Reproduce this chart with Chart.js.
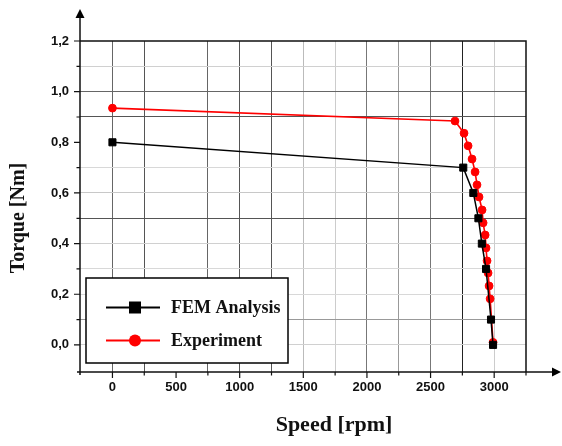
<!DOCTYPE html>
<html>
<head>
<meta charset="utf-8">
<script src="https://cdn.jsdelivr.net/npm/chart.js@4.4.0/dist/chart.umd.min.js"></script>
<style>
html,body{margin:0;padding:0;background:#fff;}
#wrap{width:562px;height:446px;position:relative;}
</style>
</head>
<body>
<div id="wrap"><canvas id="c" width="562" height="446"></canvas></div>
<script>
// ---- data ----
const femSpeed  = [0, 2757, 2836, 2876, 2903, 2936, 2975, 2991];
const femTorque = [0.80, 0.70, 0.60, 0.50, 0.40, 0.30, 0.10, 0.00];
const expSpeed  = [0, 2692, 2763, 2795, 2826, 2850, 2865, 2881, 2905, 2913, 2929, 2936, 2944, 2952, 2960, 2968, 2991];
const expTorque = [0.935, 0.884, 0.836, 0.786, 0.734, 0.683, 0.632, 0.584, 0.533, 0.482, 0.434, 0.383, 0.332, 0.284, 0.233, 0.182, 0.01];
const seriesNames = ['FEM Analysis', 'Experiment'];
const xTicks = [0,250,500,750,1000,1250,1500,1750,2000,2250,2500,2750,3000,3250];
const xTickLabels = ['0','','500','','1000','','1500','','2000','','2500','','3000',''];
const yTicks = [0.0,0.1,0.2,0.3,0.4,0.5,0.6,0.7,0.8,0.9,1.0,1.1,1.2];
const yTickLabels = ['0,0','','0,2','','0,4','','0,6','','0,8','','1,0','','1,2'];
const xTitle = 'Speed [rpm]';
const yTitle = 'Torque [Nm]';

// ---- styles ----
const xGridColors = {0:'#666',250:'#555',500:'rgba(0,0,0,0)',750:'#666',1000:'#555',1250:'#555',1500:'#bbb',1750:'#ccc',2000:'#777',2250:'#999',2500:'#777',2750:'#222',3000:'#ccc',3250:'rgba(0,0,0,0)'};
const yGridColors = {0:'#d0d0d0',1:'#999',2:'#d8d8d8',3:'#d8d8d8',4:'#d0d0d0',5:'#555',6:'#c8c8c8',7:'#d8d8d8',8:'rgba(0,0,0,0)',9:'#555',10:'#666',11:'#d0d0d0',12:'rgba(0,0,0,0)'};

const decor = {
  id: 'decor',
  afterDraw(chart) {
    const {ctx, chartArea: a, scales: {x, y}} = chart;
    ctx.save();
    // frame top & right
    ctx.strokeStyle = '#111';
    ctx.lineWidth = 1.5;
    ctx.beginPath();
    ctx.moveTo(a.left, a.top); ctx.lineTo(a.right, a.top); ctx.lineTo(a.right, a.bottom);
    ctx.stroke();
    // axes
    ctx.lineWidth = 1.5;
    ctx.beginPath();
    ctx.moveTo(a.left, a.bottom + 3); ctx.lineTo(a.left, 17);
    ctx.moveTo(a.left - 3, a.bottom); ctx.lineTo(553, a.bottom);
    ctx.stroke();
    ctx.fillStyle = '#000';
    ctx.beginPath();
    ctx.moveTo(a.left, 9); ctx.lineTo(a.left - 4.5, 18); ctx.lineTo(a.left + 4.5, 18); ctx.closePath();
    ctx.fill();
    ctx.beginPath();
    ctx.moveTo(561, a.bottom); ctx.lineTo(552, a.bottom - 4.5); ctx.lineTo(552, a.bottom + 4.5); ctx.closePath();
    ctx.fill();
    // tick marks
    ctx.lineWidth = 1.2;
    ctx.beginPath();
    xTicks.forEach((v, i) => {
      const px = x.getPixelForValue(v);
      const len = xTickLabels[i] ? 6 : 3.5;
      ctx.moveTo(px, a.bottom); ctx.lineTo(px, a.bottom + len);
    });
    yTicks.forEach((v, i) => {
      const py = y.getPixelForValue(v);
      const len = yTickLabels[i] ? 6 : 3.5;
      ctx.moveTo(a.left, py); ctx.lineTo(a.left - len, py);
    });
    ctx.stroke();
    // titles
    ctx.fillStyle = '#111';
    ctx.font = 'bold 22px "Liberation Serif"';
    ctx.textAlign = 'center';
    ctx.textBaseline = 'alphabetic';
    ctx.fillText(xTitle, 334, 431);
    ctx.save();
    ctx.translate(24, 218);
    ctx.rotate(-Math.PI / 2);
    ctx.font = 'bold 20px "Liberation Serif"';
    ctx.fillText(yTitle, 0, 0);
    ctx.restore();
    // legend
    ctx.fillStyle = '#fff';
    ctx.fillRect(86, 278, 202, 85);
    ctx.strokeStyle = '#000';
    ctx.lineWidth = 1.5;
    ctx.strokeRect(86, 278, 202, 85);
    const ds = chart.data.datasets;
    const rows = [307.5, 340.5];
    ds.forEach((d, i) => {
      const ly = rows[i];
      ctx.strokeStyle = d.borderColor;
      ctx.lineWidth = 2;
      ctx.beginPath(); ctx.moveTo(106, ly); ctx.lineTo(160, ly); ctx.stroke();
      ctx.fillStyle = d.pointBackgroundColor;
      if (d.pointStyle === 'rect') {
        ctx.fillRect(129, ly - 6, 12, 12);
      } else {
        ctx.beginPath(); ctx.arc(135, ly, 6, 0, Math.PI * 2); ctx.fill();
      }
      ctx.fillStyle = '#111';
      ctx.font = 'bold 18px "Liberation Serif"';
      ctx.textAlign = 'left';
      ctx.textBaseline = 'alphabetic';
      ctx.fillText(d.label, 171, ly + 5);
    });
    ctx.restore();
  }
};

new Chart(document.getElementById('c'), {
  type: 'scatter',
  data: {
    datasets: [
      {
        label: seriesNames[0],
        data: femSpeed.map((s, i) => ({x: s, y: femTorque[i]})),
        showLine: true,
        borderColor: '#000',
        backgroundColor: '#000',
        pointBackgroundColor: '#000',
        pointBorderColor: '#000',
        borderWidth: 1.5,
        pointBorderWidth: 1,
        pointStyle: 'rect',
        pointRadius: 5,
        pointHoverRadius: 5
      },
      {
        label: seriesNames[1],
        data: expSpeed.map((s, i) => ({x: s, y: expTorque[i]})),
        showLine: true,
        borderColor: '#ff0000',
        backgroundColor: '#ff0000',
        pointBackgroundColor: '#ff0000',
        pointBorderColor: '#ff0000',
        borderWidth: 1.6,
        pointBorderWidth: 1,
        pointStyle: 'circle',
        pointRadius: 3.9,
        pointHoverRadius: 3.9
      }
    ]
  },
  options: {
    responsive: false,
    animation: false,
    devicePixelRatio: 1,
    layout: {padding: {left: 0, right: 36, top: 41, bottom: 0}},
    plugins: {legend: {display: false}, tooltip: {enabled: false}},
    scales: {
      x: {
        type: 'linear',
        min: -255, max: 3250,
        afterFit(s) { s.height = 74; },
        afterBuildTicks(s) { s.ticks = xTicks.map(v => ({value: v})); },
        border: {display: false},
        grid: {
          drawTicks: false,
          lineWidth: 1,
          color: c => (c.tick && xGridColors[c.tick.value] !== undefined) ? xGridColors[c.tick.value] : 'rgba(0,0,0,0)'
        },
        ticks: {
          autoSkip: false, maxRotation: 0, padding: 8,
          color: '#111',
          font: {family: '"Liberation Sans", Arial, sans-serif', weight: 'bold', size: 13},
          callback: (v, i) => xTickLabels[i]
        }
      },
      y: {
        type: 'linear',
        min: -0.107, max: 1.2,
        afterFit(s) { s.width = 80; },
        afterBuildTicks(s) { s.ticks = yTicks.map(v => ({value: v})); },
        border: {display: false},
        grid: {
          drawTicks: false,
          lineWidth: 1,
          color: c => {
            if (!c.tick) return 'rgba(0,0,0,0)';
            const k = Math.round(c.tick.value * 10);
            return yGridColors[k] !== undefined ? yGridColors[k] : 'rgba(0,0,0,0)';
          }
        },
        ticks: {
          autoSkip: false, padding: 11,
          color: '#111',
          font: {family: '"Liberation Sans", Arial, sans-serif', weight: 'bold', size: 13},
          callback: (v, i) => yTickLabels[i]
        }
      }
    }
  },
  plugins: [decor]
});
</script>
</body>
</html>
